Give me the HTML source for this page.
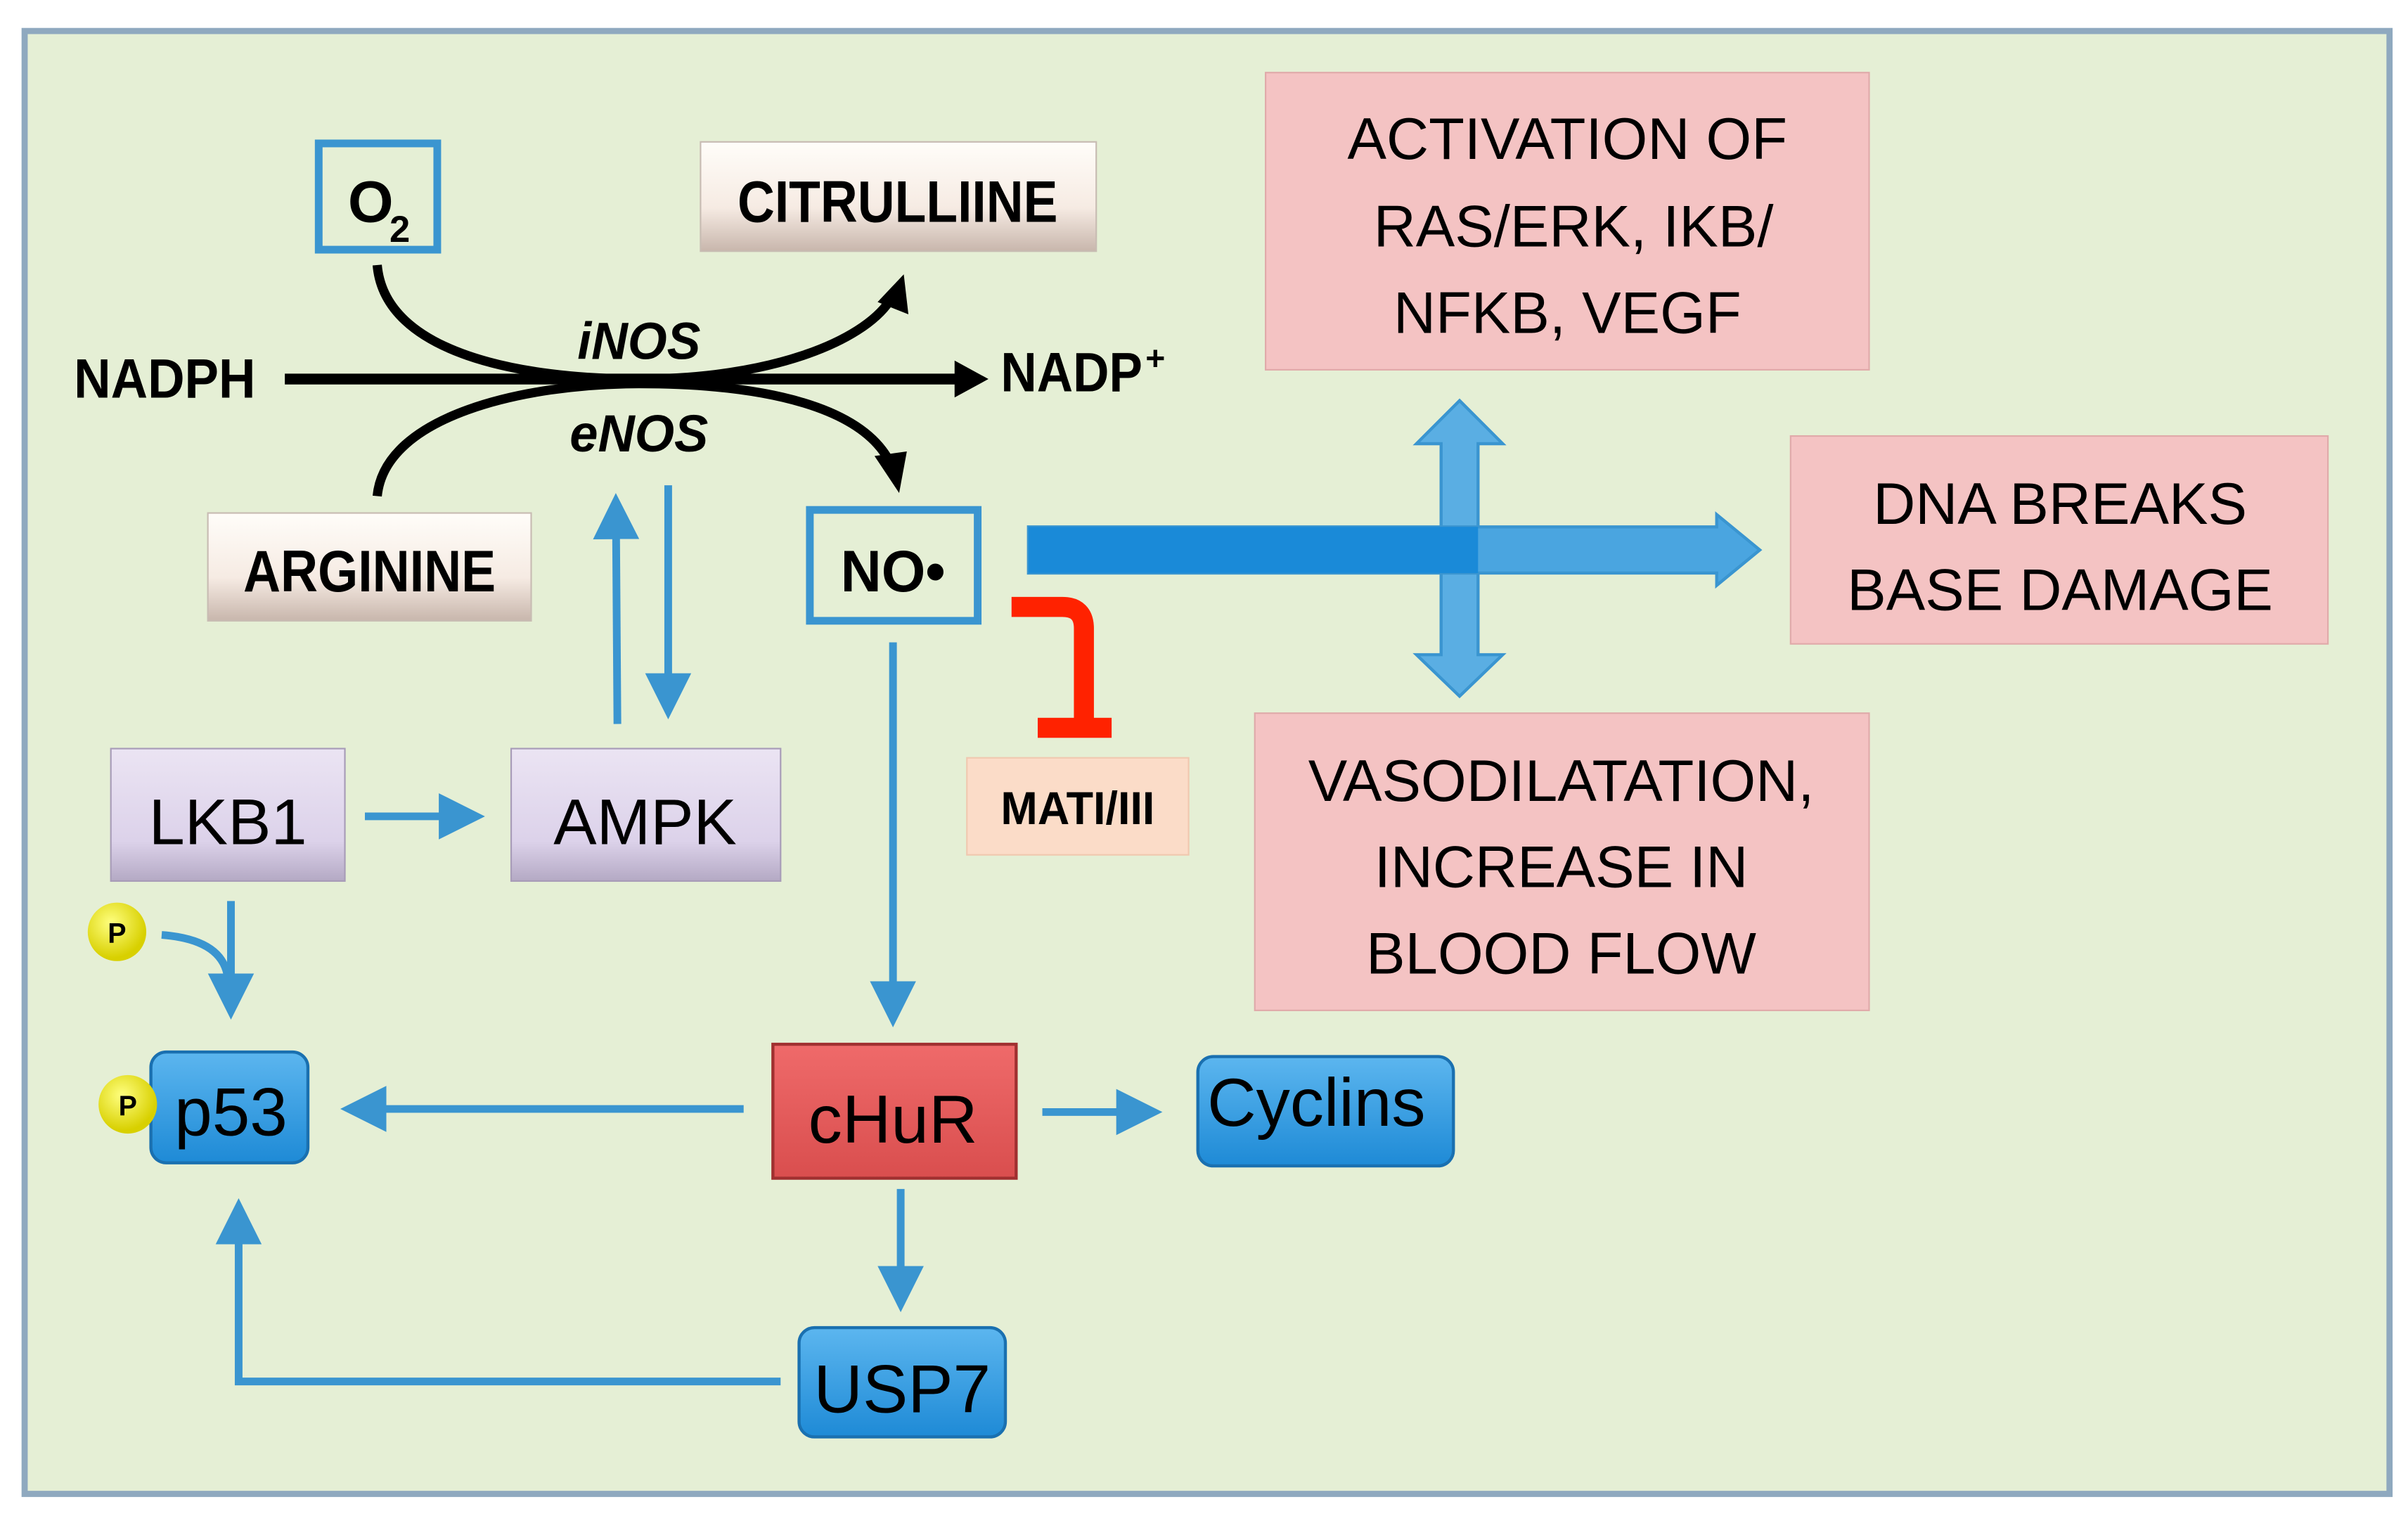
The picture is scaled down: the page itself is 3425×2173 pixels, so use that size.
<!DOCTYPE html>
<html><head><meta charset="utf-8"><style>
html,body{margin:0;padding:0;background:#fff}
svg{display:block}
text{font-family:"Liberation Sans",sans-serif}
</style></head><body>
<svg width="3425" height="2173" viewBox="0 0 1564 992" xmlns="http://www.w3.org/2000/svg">
<defs>
<linearGradient id="beige" x1="0" y1="0" x2="0" y2="1"><stop offset="0" stop-color="#fffdf9"/><stop offset="0.6" stop-color="#f6ebe3"/><stop offset="1" stop-color="#c8b6ac"/></linearGradient>
<linearGradient id="lav" x1="0" y1="0" x2="0" y2="1"><stop offset="0" stop-color="#ebe4f3"/><stop offset="0.7" stop-color="#dcd2ea"/><stop offset="1" stop-color="#b4a9c4"/></linearGradient>
<linearGradient id="blue" x1="0" y1="0" x2="0" y2="1"><stop offset="0" stop-color="#5cb6ef"/><stop offset="1" stop-color="#1e8ad6"/></linearGradient>
<linearGradient id="red" x1="0" y1="0" x2="0" y2="1"><stop offset="0" stop-color="#ef6a6a"/><stop offset="1" stop-color="#d94e4e"/></linearGradient>
<radialGradient id="ball" cx="0.4" cy="0.35" r="0.6"><stop offset="0" stop-color="#ffff80"/><stop offset="1" stop-color="#d8d000"/></radialGradient>
<marker id="bh" markerWidth="6" markerHeight="6" refX="5" refY="3" orient="auto" markerUnits="strokeWidth"><path d="M0,0 L6,3 L0,6 z" fill="#3a95d0"/></marker>
</defs>
<rect x="16" y="20" width="1536" height="950" fill="#e5efd5" stroke="#8fa9bf" stroke-width="4"/>
<rect x="822" y="47" width="392" height="193" fill="#f4c3c3" stroke="#e0aaaa"/>
<text x="1018" y="103" font-size="38" text-anchor="middle">ACTIVATION OF</text>
<text x="1022" y="160" font-size="38" text-anchor="middle">RAS/ERK, IKB/</text>
<text x="1018" y="216" font-size="38" text-anchor="middle">NFKB, VEGF</text>
<rect x="1163" y="283" width="349" height="135" fill="#f4c3c3" stroke="#e0aaaa"/>
<text x="1338" y="340" font-size="38" text-anchor="middle">DNA BREAKS</text>
<text x="1338" y="396" font-size="38" text-anchor="middle">BASE DAMAGE</text>
<rect x="815" y="463" width="399" height="193" fill="#f4c3c3" stroke="#e0aaaa"/>
<text x="1014" y="520" font-size="38" text-anchor="middle">VASODILATATION,</text>
<text x="1014" y="576" font-size="38" text-anchor="middle">INCREASE IN</text>
<text x="1014" y="632" font-size="38" text-anchor="middle">BLOOD FLOW</text>
<path d="M948,260 L976,288 L960,288 L960,425 L976,425 L948,452 L920,425 L936,425 L936,288 L920,288 Z" fill="#5aaee3" stroke="#3a95d0" stroke-width="2"/>
<path d="M668,342 L1115,342 L1115,334 L1143,357 L1115,380 L1115,372 L668,372 Z" fill="#4aa5e0" stroke="#3a95d0" stroke-width="2"/>
<rect x="668" y="342" width="292" height="30" fill="#1a8ad8"/>
<rect x="207" y="93" width="77" height="69" fill="#e5efd5" stroke="#3a95d0" stroke-width="5"/>
<text x="226" y="144" font-size="38" font-weight="bold">O</text>
<text x="253" y="157" font-size="24" font-weight="bold">2</text>
<rect x="455" y="92" width="257" height="71" fill="url(#beige)" stroke="#c8bcb3"/>
<text x="583" y="144" font-size="38" font-weight="bold" text-anchor="middle" textLength="208" lengthAdjust="spacingAndGlyphs">CITRULLIINE</text>
<rect x="135" y="333" width="210" height="70" fill="url(#beige)" stroke="#c8bcb3"/>
<text x="240" y="384" font-size="38" font-weight="bold" text-anchor="middle" textLength="164" lengthAdjust="spacingAndGlyphs">ARGININE</text>
<rect x="526" y="331" width="109" height="72" fill="#e5efd5" stroke="#3a95d0" stroke-width="5"/>
<text x="580" y="384" font-size="38" font-weight="bold" text-anchor="middle" textLength="68" lengthAdjust="spacingAndGlyphs">NO•</text>
<text x="48" y="258" font-size="36" font-weight="bold" textLength="118" lengthAdjust="spacingAndGlyphs">NADPH</text>
<line x1="185" y1="246" x2="622" y2="246" stroke="#000" stroke-width="7"/>
<path d="M620,234 L642,246 L620,258 Z" fill="#000"/>
<text x="650" y="254" font-size="36" font-weight="bold" textLength="92" lengthAdjust="spacingAndGlyphs">NADP</text>
<text x="744" y="240" font-size="22" font-weight="bold">+</text>
<path d="M245,172 C250,230 340,246 415,246 C500,246 560,222 578,195" fill="none" stroke="#000" stroke-width="6"/>
<path d="M570,196 L587,178 L590,204 Z" fill="#000"/>
<path d="M245,322 C250,270 340,249 415,249 C500,249 560,265 578,300" fill="none" stroke="#000" stroke-width="6"/>
<path d="M568,296 L589,293 L584,320 Z" fill="#000"/>
<text x="415" y="233" font-size="34" font-weight="bold" font-style="italic" text-anchor="middle" textLength="80" lengthAdjust="spacingAndGlyphs">iNOS</text>
<text x="415" y="293" font-size="34" font-weight="bold" font-style="italic" text-anchor="middle" textLength="90" lengthAdjust="spacingAndGlyphs">eNOS</text>
<line x1="401" y1="470" x2="400" y2="325" stroke="#3a95d0" stroke-width="5" marker-end="url(#bh)"/>
<line x1="434" y1="315" x2="434" y2="462" stroke="#3a95d0" stroke-width="5" marker-end="url(#bh)"/>
<line x1="580" y1="417" x2="580" y2="662" stroke="#3a95d0" stroke-width="5" marker-end="url(#bh)"/>
<path d="M657,394 L690,394 Q704,394 704,408 L704,470" fill="none" stroke="#ff2200" stroke-width="13"/>
<rect x="674" y="466" width="48" height="13" fill="#ff2200"/>
<rect x="628" y="492" width="144" height="63" fill="#fbdcc8" stroke="#f0c8b0"/>
<text x="700" y="535" font-size="30" font-weight="bold" text-anchor="middle" textLength="100" lengthAdjust="spacingAndGlyphs">MATI/III</text>
<rect x="72" y="486" width="152" height="86" fill="url(#lav)" stroke="#a89cb8"/>
<text x="148" y="548" font-size="42" text-anchor="middle">LKB1</text>
<rect x="332" y="486" width="175" height="86" fill="url(#lav)" stroke="#a89cb8"/>
<text x="419" y="548" font-size="42" text-anchor="middle">AMPK</text>
<line x1="237" y1="530" x2="310" y2="530" stroke="#3a95d0" stroke-width="5" marker-end="url(#bh)"/>
<line x1="150" y1="585" x2="150" y2="657" stroke="#3a95d0" stroke-width="5" marker-end="url(#bh)"/>
<path d="M105,607 Q145,610 148,635" fill="none" stroke="#3a95d0" stroke-width="5"/>
<circle cx="76" cy="605" r="19" fill="url(#ball)"/>
<text x="76" y="612" font-size="18" font-weight="bold" text-anchor="middle">P</text>
<rect x="98" y="683" width="102" height="72" rx="10" fill="url(#blue)" stroke="#1a70b0" stroke-width="2"/>
<text x="150" y="737" font-size="44" text-anchor="middle">p53</text>
<circle cx="83" cy="717" r="19" fill="url(#ball)"/>
<text x="83" y="724" font-size="18" font-weight="bold" text-anchor="middle">P</text>
<rect x="502" y="678" width="158" height="87" fill="url(#red)" stroke="#a03030" stroke-width="2"/>
<text x="580" y="742" font-size="44" text-anchor="middle">cHuR</text>
<line x1="483" y1="720" x2="226" y2="720" stroke="#3a95d0" stroke-width="5" marker-end="url(#bh)"/>
<line x1="677" y1="722" x2="750" y2="722" stroke="#3a95d0" stroke-width="5" marker-end="url(#bh)"/>
<rect x="778" y="686" width="166" height="71" rx="10" fill="url(#blue)" stroke="#1a70b0" stroke-width="2"/>
<text x="855" y="731" font-size="44" text-anchor="middle">Cyclins</text>
<line x1="585" y1="772" x2="585" y2="847" stroke="#3a95d0" stroke-width="5" marker-end="url(#bh)"/>
<rect x="519" y="862" width="134" height="71" rx="10" fill="url(#blue)" stroke="#1a70b0" stroke-width="2"/>
<text x="586" y="917" font-size="44" text-anchor="middle">USP7</text>
<polyline points="507,897 155,897 155,783" fill="none" stroke="#3a95d0" stroke-width="5" marker-end="url(#bh)"/>
</svg>
</body></html>
